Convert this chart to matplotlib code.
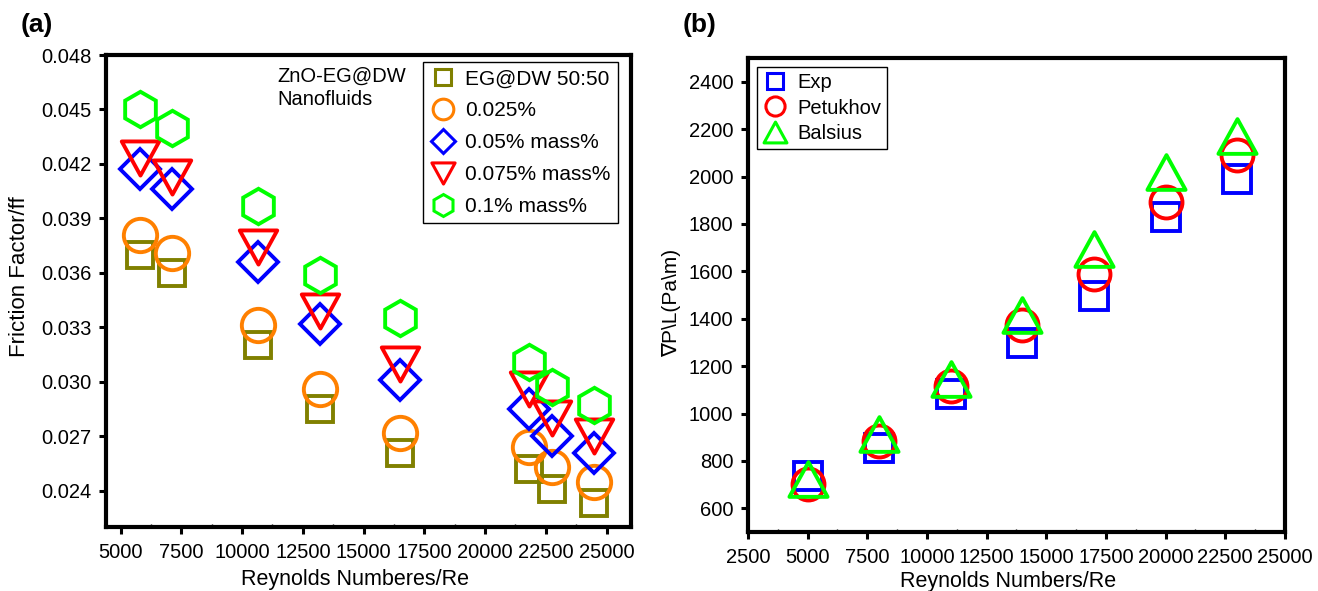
import matplotlib
matplotlib.use("Agg")
import matplotlib.pyplot as plt
from matplotlib.path import Path
from matplotlib.lines import Line2D
from matplotlib.ticker import MultipleLocator
import numpy as np

plt.rcParams['font.family'] = ['Liberation Sans', 'DejaVu Sans']

# ---------------- data: panel (a) ----------------
re_a = [5800, 7100, 10650, 13200, 16500, 21800, 22750, 24500]
ff_base = [0.0370, 0.0360, 0.0320, 0.0285, 0.0261, 0.0252, 0.0241, 0.0233]
ff_0025 = [0.0381, 0.0371, 0.0331, 0.0296, 0.0272, 0.0264, 0.0253, 0.0245]
ff_005 = [0.0417, 0.0406, 0.0366, 0.0332, 0.0301, 0.0285, 0.0270, 0.0261]
ff_0075 = [0.0423, 0.0413, 0.0374, 0.0339, 0.0310, 0.0296, 0.0280, 0.0270]
ff_01 = [0.0450, 0.0440, 0.0397, 0.0359, 0.0335, 0.0311, 0.0297, 0.0287]
labels_a = ["EG@DW 50:50", "0.025%", "0.05% mass%", "0.075% mass%", "0.1% mass%"]

# ---------------- data: panel (b) ----------------
re_b = [5000, 8000, 11000, 14000, 17000, 20000, 23000]
dp_exp = [735, 853, 1083, 1297, 1497, 1829, 1990]
dp_pet = [703, 883, 1115, 1372, 1587, 1893, 2090]
dp_bal = [722, 912, 1145, 1414, 1694, 2018, 2172]
labels_b = ["Exp", "Petukhov", "Balsius"]

yticks_a = [0.024, 0.027, 0.030, 0.033, 0.036, 0.039, 0.042, 0.045, 0.048]
xticks_a = [5000, 7500, 10000, 12500, 15000, 17500, 20000, 22500, 25000]
yticks_b = [600, 800, 1000, 1200, 1400, 1600, 1800, 2000, 2200, 2400]
xticks_b = [2500, 5000, 7500, 10000, 12500, 15000, 17500, 20000, 22500, 25000]

# marker shapes
tri_down = Path([(0, -0.5), (-0.55, 0.5), (0.55, 0.5), (0, -0.5)],
                [Path.MOVETO, Path.LINETO, Path.LINETO, Path.CLOSEPOLY])
tri_up = Path([(0, 0.5), (-0.55, -0.5), (0.55, -0.5), (0, 0.5)],
              [Path.MOVETO, Path.LINETO, Path.LINETO, Path.CLOSEPOLY])

OLIVE = "#808000"
ORANGE = "#FF8000"
BLUE = "#0000FF"
RED = "#FF0000"
GREEN = "#00FF00"

fig = plt.figure(figsize=(13.18, 5.91), dpi=100)
axa = fig.add_axes([0.0804, 0.1083, 0.3983, 0.7986])
axb = fig.add_axes([0.5675, 0.0998, 0.4074, 0.802])

MEW = 2.8
series_a = [
    (ff_base, 's', 18.5, OLIVE),
    (ff_0025, 'o', 24, ORANGE),
    (ff_005, 'D', 20.5, BLUE),
    (ff_0075, tri_down, 27, RED),
    (ff_01, 'h', 25.5, GREEN),
]
for vals, m, ms, c in series_a:
    axa.plot(re_a, vals, linestyle='none', marker=m, markersize=ms,
             markerfacecolor='none', markeredgecolor=c, markeredgewidth=MEW,
             zorder=3)

series_b = [
    (dp_exp, 's', 19.5, BLUE),
    (dp_pet, 'o', 23, RED),
    (dp_bal, tri_up, 27.5, GREEN),
]
for vals, m, ms, c in series_b:
    axb.plot(re_b, vals, linestyle='none', marker=m, markersize=ms,
             markerfacecolor='none', markeredgecolor=c, markeredgewidth=MEW,
             zorder=3)

def style(ax, xticks, yticks, xlim, ylim, yfmt):
    ax.set_xlim(*xlim)
    ax.set_ylim(*ylim)
    ax.set_xticks(xticks)
    ax.set_yticks(yticks)
    ax.set_yticklabels([yfmt.format(v) for v in yticks])
    ax.xaxis.set_minor_locator(MultipleLocator(1250))
    for s in ax.spines.values():
        s.set_linewidth(3)
    ax.tick_params(which='major', direction='out', length=5, width=2.2,
                   labelsize=14.5)
    ax.tick_params(axis='y', which='major', pad=5.5)
    ax.tick_params(axis='x', which='major', pad=6.5)
    ax.tick_params(which='minor', direction='in', length=2, width=1,
                   left=False)
    sec = ax.secondary_xaxis('top')
    sec.set_xticks(list(np.arange(xticks[0], xlim[1] + 1, 1250)))
    sec.tick_params(direction='out', length=1.5, width=1.2, labeltop=False)
    sec.spines['top'].set_visible(False)

style(axa, xticks_a, yticks_a, (4400, 26000), (0.022, 0.048), "{:.3f}")
style(axb, xticks_b, yticks_b, (2500, 25000), (500, 2500), "{:d}")

axa.set_xlabel("Reynolds Numberes/Re", fontsize=15.5)
axa.xaxis.set_label_coords(0.474, -0.088)
axa.set_ylabel("Friction Factor/ff", fontsize=16)
axa.yaxis.set_label_coords(-0.145, 0.53)
axb.set_xlabel("Reynolds Numbers/Re", fontsize=15.5)
axb.xaxis.set_label_coords(0.484, -0.082)
axb.set_ylabel("\u2207P\\L(Pa\\m)", fontsize=15)
axb.yaxis.set_label_coords(-0.125, 0.483)

# legends
h_a = [Line2D([], [], linestyle='none', marker=m, markersize=ms * 0.62,
              markerfacecolor='none', markeredgecolor=c, markeredgewidth=2.2)
       for (_, m, ms, c) in series_a]
leg_a = axa.legend(h_a, labels_a, loc='upper right',
                   bbox_to_anchor=(0.975, 0.985), borderaxespad=0,
                   fontsize=15, frameon=True, fancybox=False,
                   edgecolor='black', framealpha=1, borderpad=0.35,
                   handlelength=1.2, handletextpad=0.45, labelspacing=0.62)
leg_a.get_frame().set_linewidth(1.0)

h_b = [Line2D([], [], linestyle='none', marker=m, markersize=ms * 0.6,
              markerfacecolor='none', markeredgecolor=c, markeredgewidth=2.2)
       for (_, m, ms, c) in series_b]
leg_b = axb.legend(h_b, labels_b, loc='upper left',
                   bbox_to_anchor=(0.0168, 0.981), borderaxespad=0,
                   fontsize=14.5, frameon=True, fancybox=False,
                   edgecolor='black', framealpha=1, borderpad=0.3,
                   handlelength=1.2, handletextpad=0.5, labelspacing=0.32)
leg_b.get_frame().set_linewidth(1.0)

axa.text(0.327, 0.975, "ZnO-EG@DW\nNanofluids", transform=axa.transAxes,
         fontsize=14.5, va='top', ha='left', linespacing=1.3)

fig.text(21 / 1318, 1 - 25 / 591, "(a)", fontsize=19, fontweight='bold',
         va='center', ha='left')
fig.text(683 / 1318, 1 - 25 / 591, "(b)", fontsize=19, fontweight='bold',
         va='center', ha='left')

fig.savefig("out.png", dpi=100)
